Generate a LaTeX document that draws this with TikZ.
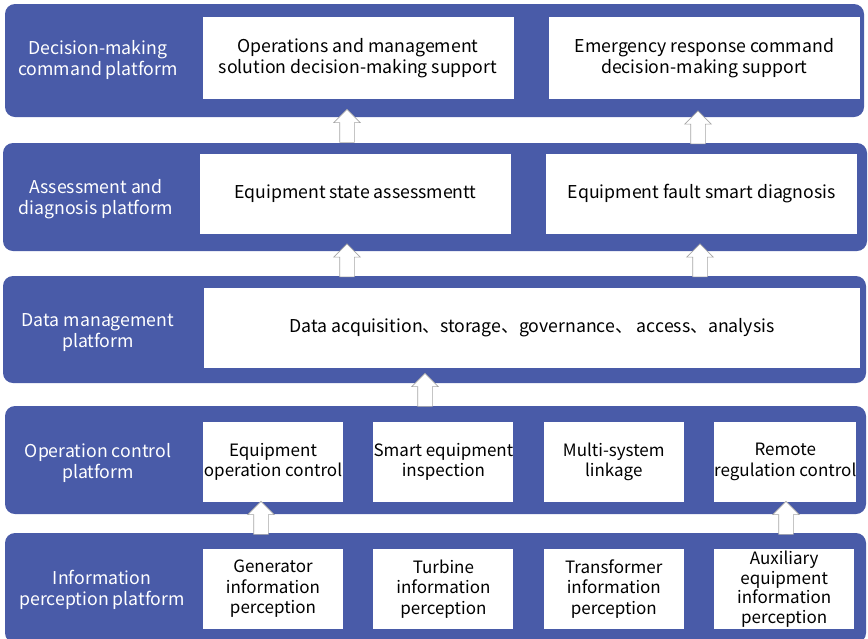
\documentclass[tikz,border=0pt]{standalone}
\usepackage{fontspec}
\setmainfont{Noto Sans CJK SC}
\usetikzlibrary{positioning,shapes.arrows}
\definecolor{bandblue}{RGB}{73,91,168}

\begin{document}
\begin{tikzpicture}[
    x=1pt, y=-1pt,
    node distance=30pt,
    every node/.style={font=\fontsize{17.7}{21}\selectfont},
    band/.style={fill=bandblue, rounded corners=10pt, inner sep=0pt},
    tier/.style={text=white, align=center, inner sep=0pt},
    box/.style={fill=white, align=center, inner sep=0pt},
    wide/.style={box, minimum width=311pt, minimum height=82pt},
    cell/.style={box, minimum width=140pt, minimum height=80pt, font=\fontsize{17}{20.5}\selectfont},
    uparrow/.style={single arrow, draw=gray!70, fill=white, rotate=90, minimum height=33pt, inner xsep=0pt, inner ysep=7pt, single arrow head extend=6pt, line width=0.6pt}
]
\useasboundingbox (0,0) rectangle (868,638);

\node[band, minimum width=859pt, minimum height=113pt] (decision) at (434.5,60.5) {};
\node[band, minimum width=864pt, minimum height=108pt] (assess) at (435,197) {};
\node[band, minimum width=863pt, minimum height=107pt] (datamgmt) at (434.5,329.5) {};
\node[band, minimum width=861pt, minimum height=108pt] (control) at (435.5,460) {};
\node[band, minimum width=861pt, minimum height=110pt] (percept) at (435.5,588) {};

\node[tier] (decisionlab) at (98,60) {Decision-making\\command platform};
\node[tier] (assesslab) at (96,199) {Assessment and\\diagnosis platform};
\node[tier] (datalab) at (98,333) {Data management\\platform};
\node[tier] (controllab) at (98,463) {Operation control\\platform};
\node[tier] (perceptlab) at (102,590) {Information\\perception platform};

\node[wide] (opsupport) at (358,58) {Operations and management\\solution decision-making support};
\node[wide, right=35pt of opsupport] (emsupport) {Emergency response command\\decision-making support};

\node[wide, minimum height=80pt] (stateassess) at (355.5,194) {Equipment state assessmentt};
\node[wide, minimum height=80pt, right=35pt of stateassess] (faultdiag) {Equipment fault smart diagnosis};

\node[box, minimum width=656pt, minimum height=80pt] (dataops) at (532,328) {Data acquisition、storage、governance、 access、analysis};

\node[cell] (opctl) at (273,462) {Equipment\\operation control};
\node[cell, right=of opctl] (inspect) {Smart equipment\\inspection};
\node[cell, right=of inspect] (linkage) {Multi-system\\linkage};
\node[cell, right=of linkage] (remote) {Remote\\regulation control};

\node[cell] (genper) at (273,589) {Generator\\information\\perception};
\node[cell, right=of genper] (turbper) {Turbine\\information\\perception};
\node[cell, right=of turbper] (transper) {Transformer\\information\\perception};
\node[cell, right=of transper, font=\fontsize{17}{19.5}\selectfont] (auxper) {Auxiliary\\equipment\\information\\perception};

\node[uparrow] (up1) at (347,129.5) {};
\node[uparrow] (up2) at (698,131) {};
\node[uparrow] (up3) at (347,264) {};
\node[uparrow] (up4) at (700,264) {};
\node[uparrow] (up5) at (425,393.5) {};
\node[uparrow] (up6) at (261,521.5) {};
\node[uparrow] (up7) at (786,521.5) {};
\end{tikzpicture}
\end{document}
